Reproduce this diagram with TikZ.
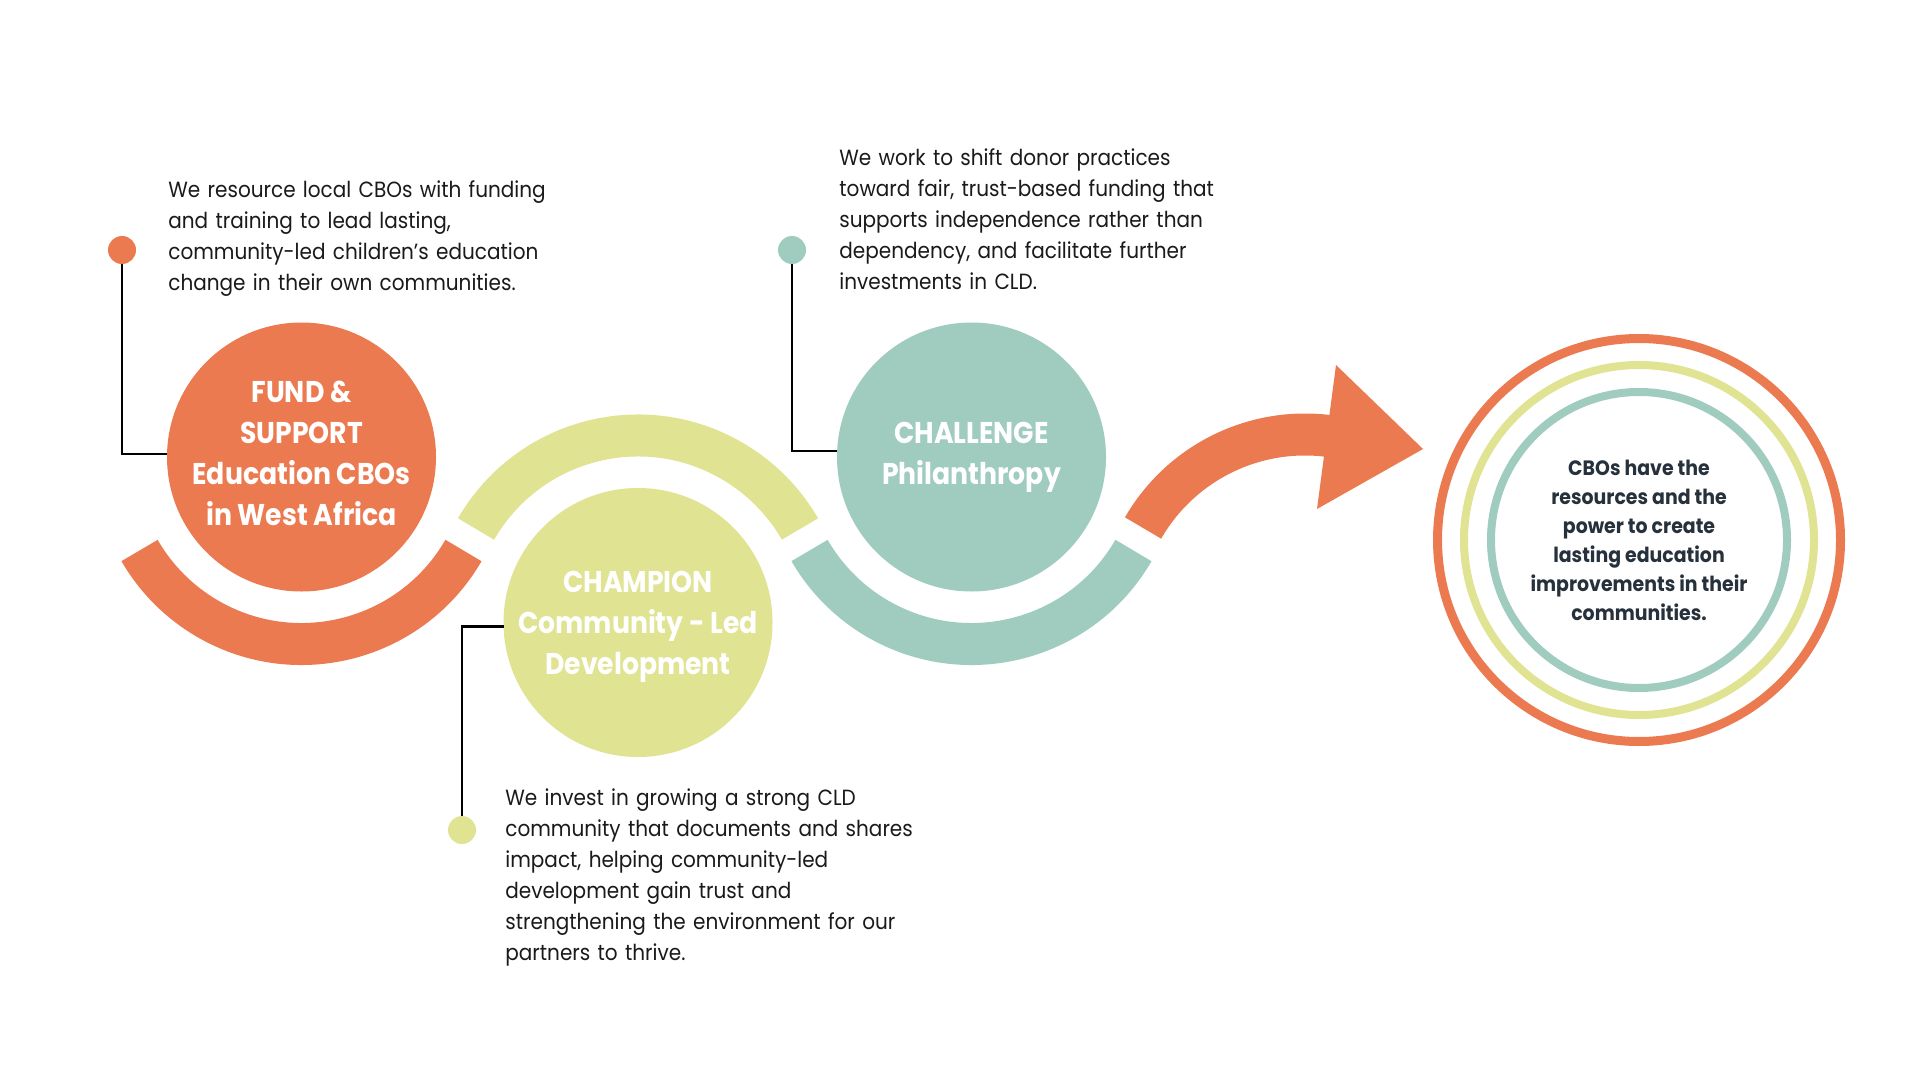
\documentclass[tikz,border=0pt]{standalone}
\usepackage{fontspec}
\setmainfont{Poppins}[FakeStretch=0.91]
\newfontfamily\titlefam{Poppins}[FakeStretch=0.89]
\usetikzlibrary{calc}
\definecolor{corange}{HTML}{EC7A51}
\definecolor{cyellow}{HTML}{E0E392}
\definecolor{cteal}{HTML}{9FCCBF}
\definecolor{ink}{HTML}{1A1A1A}
\definecolor{goalink}{HTML}{26313B}
\newcommand\bodyfnt{\fontsize{11pt}{15.5pt}\selectfont}
\newcommand\titlefnt{\titlefam\fontsize{15pt}{20.5pt}\selectfont\bfseries}
\newcommand\goalfnt{\fontsize{10.4pt}{14.5pt}\selectfont\bfseries}
\begin{document}
\begin{tikzpicture}[x=0.5pt,y=-0.5pt,
  bigcirc/.style={circle, minimum size=134.5pt, inner sep=0pt, text=white, font=\titlefnt, align=center, text depth=3.6pt},
  dotnode/.style={circle, minimum size=14pt, inner sep=0pt},
  body/.style={anchor=base west, inner sep=0pt, text width=240pt, align=left, font=\bodyfnt, text=ink},
  lead/.style={line width=1.35pt, draw=black},
  band/.style={line width=21pt},
  ring/.style={circle, inner sep=0pt}]
\useasboundingbox (0,0) rectangle (1920,1080);
\fill[white] (0,0) rectangle (1920,1080);

% centres
\coordinate (c1) at (301.5,457);
\coordinate (c2) at (638,622.5);
\coordinate (c3) at (971.5,457);
\coordinate (c4) at (1305,621.5);
\coordinate (goalc) at (1639,540);

% bands
\draw[band, corange] ($(c1)+(30:187)$) arc[start angle=30, end angle=150, radius=187];
\draw[band, cyellow] ($(c2)+(210:187)$) arc[start angle=210, end angle=330, radius=187];
\draw[band, cteal] ($(c3)+(30:187)$) arc[start angle=30, end angle=150, radius=187];

% arrow
\draw[band, corange] ($(c4)+(210:187)$) arc[start angle=210, end angle=277, radius=187];
\coordinate (ah1) at (1336,365);
\coordinate (ah2) at (1423,449);
\coordinate (ah3) at (1317,509);
\fill[corange] (ah1) -- (ah2) -- (ah3) -- cycle;

% main circles
\node[bigcirc, fill=corange] (fund) at (c1) {FUND \&\\SUPPORT\\Education CBOs\\in West Africa};
\node[bigcirc, fill=cyellow, text depth=-2.4pt] (champ) at (c2) {CHAMPION\\Community - Led\\Development};
\node[bigcirc, fill=cteal] (chall) at (c3) {CHALLENGE\\Philanthropy};

% dots and leads
\node[dotnode, fill=corange] (d1) at (122,250) {};
\node[dotnode, fill=cyellow] (d2) at (462,830) {};
\node[dotnode, fill=cteal] (d3) at (792,250) {};
\draw[lead] (d1.south) |- ($(fund.west)+(0.5,-3)$);
\draw[lead] (d2.north) |- ($(champ.west)+(0.5,4)$);
\draw[lead] (d3.south) |- ($(chall.west)+(0.5,-6)$);

% body texts
\node[body] (t1) at (168,198) {We resource local CBOs with funding\\and training to lead lasting,\\community-led children’s education\\change in their own communities.};
\node[body] (t3) at (839,166) {We work to shift donor practices\\toward fair, trust-based funding that\\supports independence rather than\\dependency, and facilitate further\\investments in CLD.};
\node[body] (t2) at (505,805) {We invest in growing a strong CLD\\community that documents and shares\\impact, helping community-led\\development gain trust and\\strengthening the environment for our\\partners to thrive.};

% goal rings
\node[ring, draw=corange, line width=4.5pt, minimum size=201.5pt] (ringO) at (goalc) {};
\node[ring, draw=cyellow, line width=4pt, minimum size=175pt] (ringY) at (goalc) {};
\node[ring, draw=cteal, line width=4pt, minimum size=148pt, align=center, font=\goalfnt, text=goalink] (goal) at (goalc) {CBOs have the\\resources and the\\power to create\\lasting education\\improvements in their\\communities.};
\end{tikzpicture}
\end{document}
